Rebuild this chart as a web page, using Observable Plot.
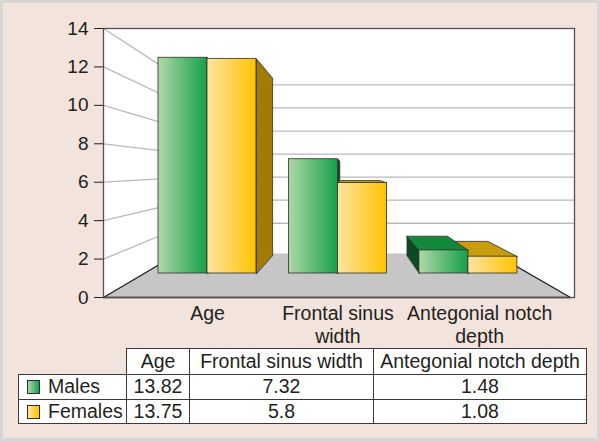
<!DOCTYPE html>
<html>
<head>
<meta charset="utf-8">
<script src="https://cdn.jsdelivr.net/npm/d3@7"></script>
<script src="https://cdn.jsdelivr.net/npm/@observablehq/plot@0.6"></script>
<style>
html, body { margin: 0; padding: 0; background: #ffffff; }
#chart { position: relative; width: 600px; height: 441px; background: #f2e3dd; overflow: hidden;
  font-family: "Liberation Sans", Arial, sans-serif; color: #231f20; }
#chart svg { position: absolute; left: 0; top: 0; }
#border { position: absolute; left: 0; top: 0; width: 600px; height: 441px; box-sizing: border-box;
  border: 3px solid #d6d6d6; pointer-events: none; }
#tbl { position: absolute; left: 18px; top: 348px; border-collapse: collapse; table-layout: fixed;
  font-size: 19.5px; line-height: 1; }
#tbl td { border: 1.5px solid #3d3939; background: #ffffff; padding: 0; text-align: center;
  white-space: nowrap; vertical-align: middle; }
#tbl tr.hdr td { height: 25px; }
#tbl tr.row td { height: 23.5px; }
#tbl td.blank { border-top: none; border-left: none; background: transparent; }
#tbl td.name { text-align: left; padding-left: 8px; }
.sw { display: inline-block; width: 11px; height: 12px; border: 1px solid #2f2f2f; margin-right: 8px;
  vertical-align: -1px; }
</style>
</head>
<body>
<div id="chart"></div>
<script>
// ---------- data ----------
const categories = ["Age", "Frontal sinus width", "Antegonial notch depth"];
const categoryAxisLabels = ["Age", "Frontal sinus\nwidth", "Antegonial notch\ndepth"];
const seriesNames = ["Males", "Females"];
const malesValues = [13.82, 7.32, 1.48];
const femalesValues = [13.75, 5.8, 1.08];
const yTicks = [0, 2, 4, 6, 8, 10, 12, 14];

// ---------- perspective settings (data units of the front plane) ----------
const X_MIN = -0.445, X_MAX = 2.488, X_FLOOR_RIGHT = 2.463;
const VP_Y = 6.66, VP_X_BAR = 1.08, VP_X_WALL = 0.906;
const S_BAR_FRONT = 0.8125, S_BAR_BACK = 0.67, S_FLOOR_BACK = 0.656, S_WALL = 0.6;
const BAR_W = 0.3755;
const px = (X, s, vx) => vx + (X - vx) * s;
const py = (Y, s) => VP_Y + (Y - VP_Y) * s;

const seriesStyle = {
  Males:   {front: "url(#gradMales)",   side: "#0c4b21", top: "#11883a"},
  Females: {front: "url(#gradFemales)", side: "#a27b00", top: "#c89c0c"}
};

const bars = [];
categories.forEach((c, i) => {
  seriesNames.forEach((s, j) => {
    const v = (j === 0 ? malesValues : femalesValues)[i];
    const x0 = j === 0 ? i - BAR_W : i;
    bars.push({category: c, series: s, i, j, v, x0, x1: x0 + BAR_W});
  });
});

const P = (X, Y, s) => ({x: px(X, s, VP_X_BAR), y: py(Y, s)});
const dist = b => Math.abs((b.x0 + b.x1) / 2 - VP_X_BAR);
const ordered = bars.slice().sort((a, b) => dist(b) - dist(a));
const sidePts = [], topPts = [];
ordered.forEach((b, k) => {
  const st = seriesStyle[b.series];
  const F = S_BAR_FRONT, B = S_BAR_BACK;
  const add = (arr, key, fill, pts) => pts.forEach(p => arr.push({key, fill, x: p.x, y: p.y}));
  if (b.x0 > VP_X_BAR) add(sidePts, "L" + k, st.side, [P(b.x0, 0, F), P(b.x0, b.v, F), P(b.x0, b.v, B), P(b.x0, 0, B)]);
  if (b.x1 < VP_X_BAR) add(sidePts, "R" + k, st.side, [P(b.x1, 0, F), P(b.x1, b.v, F), P(b.x1, b.v, B), P(b.x1, 0, B)]);
  if (b.v < VP_Y) add(topPts, "T" + k, st.top, [P(b.x0, b.v, F), P(b.x1, b.v, F), P(b.x1, b.v, B), P(b.x0, b.v, B)]);
});

const wallTicks = yTicks.filter(t => t > 0);
const wallLeftX = px(X_MIN, S_WALL, VP_X_WALL);
const floorPts = [
  {x: X_MIN, y: 0},
  {x: px(X_MIN, S_FLOOR_BACK, VP_X_WALL), y: py(0, S_FLOOR_BACK)},
  {x: px(X_FLOOR_RIGHT, S_FLOOR_BACK, VP_X_BAR), y: py(0, S_FLOOR_BACK)},
  {x: X_FLOOR_RIGHT, y: 0}
];
const floorEdge = [floorPts[1], floorPts[0], floorPts[3], floorPts[2]];

const svg = Plot.plot({
  width: 600, height: 345,
  marginTop: 28, marginBottom: 48, marginLeft: 103, marginRight: 26,
  style: {background: "transparent", fontFamily: "Liberation Sans, Arial, sans-serif", fontSize: "19px", color: "#231f20", overflow: "visible"},
  x: {domain: [X_MIN, X_MAX], axis: null},
  y: {domain: [0, 14], ticks: yTicks, tickSize: 9, tickPadding: 6, label: null, tickFormat: d => String(d)},
  color: {type: "identity"},
  marks: [
    Plot.frame({fill: "#ffffff", stroke: "none"}),
    Plot.link(wallTicks, {x1: () => X_MIN, y1: d => d, x2: () => wallLeftX, y2: d => py(d, S_WALL), stroke: "#b9b9b9", strokeWidth: 1.3}),
    Plot.ruleY(wallTicks, {y: d => py(d, S_WALL), x1: () => wallLeftX, x2: () => X_MAX, stroke: "#b9b9b9", strokeWidth: 1.3}),
    Plot.line(floorPts, {x: "x", y: "y", fill: "#c6c6c6", stroke: "none", curve: "linear-closed"}),
    Plot.line(floorEdge, {x: "x", y: "y", stroke: "#1f1f1f", strokeWidth: 1.3}),
    Plot.line(sidePts, {x: "x", y: "y", z: "key", fill: "fill", stroke: "#2e2e2e", strokeWidth: 0.8, curve: "linear-closed"}),
    Plot.line(topPts, {x: "x", y: "y", z: "key", fill: "fill", stroke: "#2e2e2e", strokeWidth: 0.8, curve: "linear-closed"}),
    Plot.rect(bars, {
      x1: b => px(b.x0, S_BAR_FRONT, VP_X_BAR), x2: b => px(b.x1, S_BAR_FRONT, VP_X_BAR),
      y1: () => py(0, S_BAR_FRONT), y2: b => py(b.v, S_BAR_FRONT),
      fill: b => seriesStyle[b.series].front, stroke: "#2e2e2e", strokeWidth: 0.8
    }),
    Plot.frame({stroke: "#554f4f", strokeWidth: 1.3}),
    Plot.text(categories, {
      x: (d, i) => px(i, S_BAR_FRONT, VP_X_BAR) + (i === 2 ? 0.07 : 0), frameAnchor: "bottom",
      text: (d, i) => categoryAxisLabels[i], lineAnchor: "top", dy: 6, lineHeight: 1.17,
      fontSize: 19.5, fill: "#231f20"
    })
  ]
});

const ns = "http://www.w3.org/2000/svg";
const defs = document.createElementNS(ns, "defs");
defs.innerHTML =
  '<linearGradient id="gradMales" x1="0" y1="0" x2="1" y2="0">' +
  '<stop offset="0" stop-color="#afd8a6"/><stop offset="1" stop-color="#15a04a"/></linearGradient>' +
  '<linearGradient id="gradFemales" x1="0" y1="0" x2="1" y2="0">' +
  '<stop offset="0" stop-color="#ffe3a0"/><stop offset="1" stop-color="#ffc300"/></linearGradient>';
svg.insertBefore(defs, svg.firstChild);

const chart = document.getElementById("chart");
chart.appendChild(svg);

// ---------- data table ----------
const tbl = document.createElement("table");
tbl.id = "tbl";
const colWidths = [108, 63, 184, 213];
const cg = document.createElement("colgroup");
colWidths.forEach(w => { const c = document.createElement("col"); c.style.width = w + "px"; cg.appendChild(c); });
tbl.appendChild(cg);
const hdr = tbl.insertRow();
hdr.className = "hdr";
const blank = hdr.insertCell(); blank.className = "blank";
categories.forEach(c => { hdr.insertCell().textContent = c; });
const swatch = {Males: "linear-gradient(to right, #afd8a6, #15a04a)", Females: "linear-gradient(to right, #ffe3a0, #ffc300)"};
seriesNames.forEach((s, j) => {
  const r = tbl.insertRow(); r.className = "row";
  const nc = r.insertCell(); nc.className = "name";
  const sw = document.createElement("span"); sw.className = "sw"; sw.style.background = swatch[s];
  nc.appendChild(sw); nc.appendChild(document.createTextNode(s));
  (j === 0 ? malesValues : femalesValues).forEach(v => { r.insertCell().textContent = String(v); });
});
chart.appendChild(tbl);

const border = document.createElement("div");
border.id = "border";
chart.appendChild(border);
</script>
</body>
</html>
